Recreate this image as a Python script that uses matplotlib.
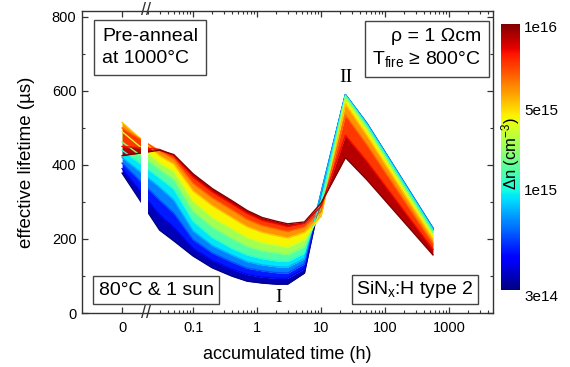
import matplotlib
matplotlib.use('Agg')
import matplotlib.pyplot as plt
import numpy as np
from matplotlib import ticker, colors, cm
from matplotlib.transforms import blended_transform_factory

plt.rcParams['font.family'] = ['Liberation Sans', 'DejaVu Sans']
plt.rcParams['mathtext.fontset'] = 'custom'
plt.rcParams['mathtext.rm'] = 'Liberation Sans'
plt.rcParams['mathtext.it'] = 'Liberation Sans:italic'

# accumulated time (h)
time_h = [0, 0.03, 0.05, 0.1, 0.2, 0.4, 0.7, 1.2, 2, 3, 5.5, 10, 24, 52, 560]

# position of each injection level on the colour bar (0 -> 3e14, 1 -> 1e16)
dn_pos = [0.0, 0.1, 0.2, 0.3, 0.4, 0.5, 0.6, 0.7, 0.8, 0.9, 1.0]

# effective lifetime (us) for each injection level
tau_00 = [378, 224, 195, 154, 122, 100, 86, 81, 78, 78, 108, 318, 588, 510, 225]
tau_01 = [390, 265, 232, 175, 142, 119, 104, 97, 94, 94, 120, 322, 590, 512, 228]
tau_02 = [405, 305, 270, 198, 162, 138, 121, 114, 109, 108, 133, 325, 590, 513, 230]
tau_03 = [420, 340, 305, 222, 182, 157, 139, 130, 125, 124, 147, 324, 590, 512, 228]
tau_04 = [440, 365, 335, 248, 204, 175, 157, 147, 141, 139, 162, 305, 588, 508, 224]
tau_05 = [462, 388, 360, 275, 232, 202, 180, 168, 162, 158, 180, 280, 585, 502, 218]
tau_06 = [490, 405, 382, 302, 258, 228, 204, 190, 183, 178, 198, 264, 578, 495, 210]
tau_07 = [515, 425, 402, 330, 290, 258, 233, 218, 209, 203, 218, 262, 565, 480, 200]
tau_08 = [500, 438, 416, 350, 311, 279, 253, 236, 227, 220, 232, 275, 535, 455, 188]
tau_09 = [450, 442, 425, 367, 327, 295, 269, 250, 241, 233, 242, 288, 480, 410, 172]
tau_10 = [425, 440, 428, 376, 336, 304, 277, 258, 248, 241, 246, 297, 420, 360, 157]
tau_rows = [tau_00, tau_01, tau_02, tau_03, tau_04, tau_05,
            tau_06, tau_07, tau_08, tau_09, tau_10]

cbar_ticks = [0.0, 0.376, 0.68, 0.992]
cbar_labels = ['3e14', '1e15', '5e15', '1e16']

x_major = [0, 0.1, 1, 10, 100, 1000]
x_major_labels = ['0', '0.1', '1', '10', '100', '1000']

# broken x axis: linear around 0, log from the break on
T_BREAK = 10 ** -1.75
LIN_K = 20.2


def fwd(t):
    t = np.asarray(t, dtype=float)
    lg = np.log10(np.maximum(t, T_BREAK))
    return np.where(t >= T_BREAK, lg, -1.75 - (T_BREAK - t) * LIN_K)


def inv(d):
    d = np.asarray(d, dtype=float)
    return np.where(d >= -1.75, 10 ** np.minimum(d, 10), T_BREAK - (-1.75 - d) / LIN_K)


cmap = plt.get_cmap('jet')
edge = '#333333'

fig = plt.figure(figsize=(5.7, 3.67), dpi=100)
ax = fig.add_axes([0.1439, 0.1471, 0.7211, 0.823])
ax.set_xscale('function', functions=(fwd, inv))

t = np.array(time_h)
for i in range(len(tau_rows) - 1):
    cmid = (dn_pos[i] + dn_pos[i + 1]) / 2
    ax.fill_between(t, tau_rows[i], tau_rows[i + 1], color=cmap(cmid),
                    lw=0, interpolate=True, zorder=1 + i * 0.01)
for c, row in zip(dn_pos, tau_rows):
    ax.plot(t, row, color=cmap(c), lw=1.0, zorder=2)

# gap of the axis break
ax.axvspan(0.0147, 0.0195, color='white', lw=0, zorder=2.2)

ax.set_xlim(-0.031, 4870)
ax.set_ylim(0, 816)

minors = [m * 10.0 ** k for k in range(-2, 4) for m in range(2, 10)]
minors = [v for v in minors if 0.02 <= v <= 4800]
ax.xaxis.set_major_locator(ticker.FixedLocator(x_major))
ax.xaxis.set_major_formatter(ticker.FixedFormatter(x_major_labels))
ax.xaxis.set_minor_locator(ticker.FixedLocator(minors))
ax.yaxis.set_major_locator(ticker.MultipleLocator(200))
ax.yaxis.set_minor_locator(ticker.MultipleLocator(100))

ax.tick_params(which='both', direction='in', top=True, right=True,
               color=edge, labelsize=10.5)
ax.tick_params(which='major', length=4.5, width=0.9)
ax.tick_params(which='minor', length=2.5, width=0.8)
ax.tick_params(axis='x', pad=6)
ax.tick_params(axis='y', pad=4)
for s in ax.spines.values():
    s.set_color(edge)
    s.set_linewidth(1.0)

ax.set_xlabel('accumulated time (h)', fontsize=13, labelpad=8)
ax.set_ylabel('effective lifetime (µs)', fontsize=13.5, labelpad=12)

trans = blended_transform_factory(ax.transData, ax.transAxes)
for yy in (0, 1):
    ax.text(0.0182, yy, '//', transform=trans, ha='center', va='center',
            fontsize=13, color=edge, clip_on=False, zorder=5)

box = dict(boxstyle='square,pad=0.4', fc='white', ec='#444444', lw=1.0)
ax.text(0.049, 0.945, 'Pre-anneal\nat 1000°C', transform=ax.transAxes,
        ha='left', va='top', fontsize=14, linespacing=1.45, bbox=box, zorder=6)
ax.text(0.971, 0.945, 'ρ = 1 Ωcm\nT$_{\\rm fire}$ ≥ 800°C', transform=ax.transAxes,
        ha='right', va='top', multialignment='right', fontsize=14,
        linespacing=1.3, bbox=box, zorder=6)
ax.text(0.18, 0.076, '80°C & 1 sun', transform=ax.transAxes,
        ha='center', va='center', fontsize=14,
        bbox=dict(boxstyle='square,pad=0.3', fc='white', ec='#444444', lw=1.0),
        zorder=6)
ax.text(0.81, 0.078, 'SiN$_{\\rm x}$:H type 2', transform=ax.transAxes,
        ha='center', va='center', fontsize=14,
        bbox=dict(boxstyle='square,pad=0.22', fc='white', ec='#444444', lw=1.0),
        zorder=6)

ax.text(0.477, 0.053, 'I', transform=ax.transAxes, ha='center', va='center',
        fontsize=14, family='Liberation Serif')
ax.text(0.642, 0.781, 'II', transform=ax.transAxes, ha='center', va='center',
        fontsize=14, family='Liberation Serif')

cax = fig.add_axes([0.879, 0.2098, 0.0333, 0.7248])
sm = cm.ScalarMappable(norm=colors.Normalize(0, 1), cmap=cmap)
cb = fig.colorbar(sm, cax=cax)
cb.outline.set_visible(False)
cb.set_ticks(cbar_ticks, labels=cbar_labels)
cax.tick_params(length=0, labelsize=11, pad=3)
cax.get_yticklabels()[0].set_va('top')
cax.text(0.5, 0.515, 'Δn (cm$^{-3}$)', transform=cax.transAxes, rotation=90,
         ha='center', va='center', fontsize=12)

fig.savefig('out.png', dpi=100)
